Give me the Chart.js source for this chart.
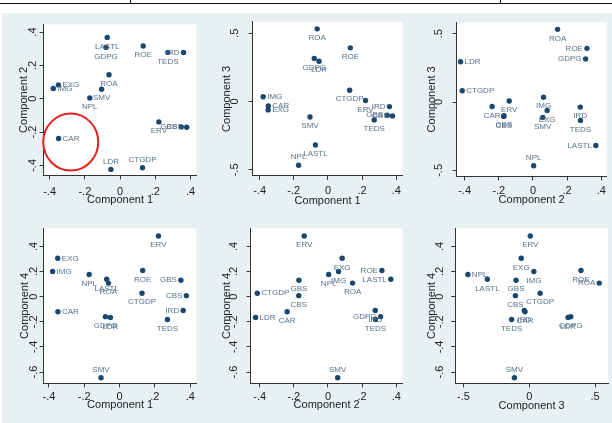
<!DOCTYPE html>
<html>
<head>
<meta charset="utf-8">
<script src="https://cdn.jsdelivr.net/npm/chart.js@4.4.0/dist/chart.umd.min.js"></script>
<style>
  html, body { margin: 0; padding: 0; background: #fff; }
  #page { position: relative; width: 612px; height: 423px; overflow: hidden; }
  #bg { position: absolute; left: 2px; top: 13px; right: 0; bottom: 0; background: #e9f0f2; }
  .rule { position: absolute; background: #111; }
  canvas { position: absolute; }
</style>
</head>
<body>
<div id="page">
  <div class="rule" style="left:0;top:3px;width:612px;height:1px"></div>
  <div class="rule" style="left:130px;top:0;width:1px;height:3px"></div>
  <div class="rule" style="left:500px;top:0;width:1px;height:3px"></div>
  <div id="bg"></div>
</div>
<script>
// loadings of the 16 variables on the first four components
const names = ['CAR', 'LDR', 'CTGDP', 'ERV', 'IRD', 'GBS', 'CBS', 'TEDS', 'ROE', 'ROA', 'GDPG', 'LASTL', 'NPL', 'SMV', 'EXG', 'IMG'];
const comp1 = [-0.349, -0.052, 0.127, 0.220, 0.360, 0.347, 0.378, 0.271, 0.131, -0.063, -0.080, -0.073, -0.172, -0.105, -0.350, -0.379];
const comp2 = [-0.239, -0.424, -0.414, -0.139, 0.277, -0.170, -0.171, 0.278, 0.316, 0.144, 0.308, 0.368, 0.004, 0.057, 0.083, 0.062];
const comp3 = [-0.032, 0.295, 0.083, 0.008, -0.037, -0.100, -0.105, -0.134, 0.393, 0.532, 0.316, -0.318, -0.466, -0.113, -0.061, 0.035];
const comp4 = [-0.120, -0.165, 0.027, 0.483, -0.110, 0.131, 0.008, -0.182, 0.208, 0.108, -0.159, 0.138, 0.176, -0.645, 0.305, 0.200];
const comps = [null, comp1, comp2, comp3, comp4];

// tick labels
const ticks4 = [-0.4, -0.2, 0, 0.2, 0.4];
const ticks5 = [-0.5, 0, 0.5];
const ticks6 = [-0.6, -0.4, -0.2, 0, 0.2, 0.4];

const FONT = "'Liberation Sans', Arial, sans-serif";
const FS = 11;
const HALF = FS * 1.2 / 2;
const AX = '#333';
const TXT = '#222';
const MARK = '#1a476f';
const LAB = '#56728d';

// panel geometry (pixels of plot region) and label clock positions (default 6 = below)
const panels = [
  { cx: 1, cy: 2, axisX: 44, top: 24, right: 197, axisY: 175, xr: [-0.434, 0.434], yr: [-0.46, 0.446], xt: ticks4, yt: ticks4,
    yTick: 9, yTitle: 20, xTick: 15, xTitle: 25,
    where: { IRD: 9, EXG: 3, IMG: 3, GBS: 9, CBS: 9, CAR: 3, LDR: 12, CTGDP: 12 }, circle: true },
  { cx: 1, cy: 3, axisX: 253, top: 22, right: 403, axisY: 176, xr: [-0.441, 0.437], yr: [-0.544, 0.583], xt: ticks4, yt: ticks5,
    yTick: 16, yTitle: 26, xTick: 14, xTitle: 25.5,
    where: { IMG: 3, CAR: 3, EXG: 3, IRD: 9, GBS: 9, CBS: 9, NPL: 12 } },
  { cx: 2, cy: 3, axisX: 457, top: 22, right: 607, axisY: 176, xr: [-0.447, 0.431], yr: [-0.544, 0.583], xt: ticks4, yt: ticks5,
    yTick: 16, yTitle: 25, xTick: 13.5, xTitle: 24,
    where: { ROE: 9, GDPG: 9, LDR: 3, CTGDP: 3, LASTL: 9, NPL: 12 } },
  { cx: 1, cy: 4, axisX: 44, top: 228, right: 197, axisY: 383, xr: [-0.43, 0.436], yr: [-0.69, 0.543], xt: ticks4, yt: ticks6,
    yTick: 8, yTitle: 19, xTick: 12, xTitle: 22,
    where: { EXG: 3, IMG: 3, GBS: 9, CBS: 9, CAR: 3, IRD: 9, SMV: 12 } },
  { cx: 2, cy: 4, axisX: 251, top: 228, right: 403, axisY: 383, xr: [-0.453, 0.437], yr: [-0.69, 0.543], xt: ticks4, yt: ticks6,
    yTick: 15, yTitle: 24, xTick: 12, xTitle: 22,
    where: { ROE: 9, LASTL: 9, CTGDP: 3, LDR: 3, GDPG: 9, SMV: 12 } },
  { cx: 3, cy: 4, axisX: 455, top: 228, right: 608, axisY: 383, xr: [-0.563, 0.599], yr: [-0.69, 0.543], xt: ticks5, yt: ticks6,
    yTick: 13.5, yTitle: 23.5, xTick: 12, xTitle: 23,
    where: { NPL: 3, ROA: 9, SMV: 12 } }
];

function fmt(v) {
  if (Math.abs(v) < 1e-9) return '0';
  return (v < 0 ? '-' : '') + String(Math.abs(v)).replace(/^0/, '');
}

const plotBg = {
  id: 'plotBg',
  beforeDraw(chart) {
    const a = chart.chartArea;
    chart.ctx.save();
    chart.ctx.fillStyle = '#fff';
    chart.ctx.fillRect(a.left, a.top, a.right - a.left, a.bottom - a.top);
    chart.ctx.restore();
  }
};

const pointLabels = {
  id: 'pointLabels',
  afterDatasetsDraw(chart, args, opts) {
    const ctx = chart.ctx;
    const meta = chart.getDatasetMeta(0);
    ctx.save();
    ctx.font = "8px 'Liberation Sans', Arial, sans-serif";
    ctx.fillStyle = LAB;
    meta.data.forEach((pt, i) => {
      const name = names[i];
      const pos = opts.where[name] || 6;
      let x = pt.x, y = pt.y;
      ctx.textBaseline = 'middle';
      if (pos === 6) { ctx.textAlign = 'center'; y += 9; }
      else if (pos === 12) { ctx.textAlign = 'center'; y -= 8; }
      else if (pos === 3) { ctx.textAlign = 'left'; x += 4; }
      else { ctx.textAlign = 'right'; x -= 4; }
      ctx.fillText(name, x, y);
    });
    ctx.restore();
  }
};

// red highlight round CAR in the first panel
const carCircle = {
  id: 'carCircle',
  afterDraw(chart, args, opts) {
    if (!opts.show) return;
    const ctx = chart.ctx;
    const cx = chart.scales.x.getPixelForValue(-0.28);
    const cy = chart.scales.y.getPixelForValue(-0.26);
    ctx.save();
    ctx.strokeStyle = '#e3211e';
    ctx.lineWidth = 2;
    ctx.beginPath();
    ctx.ellipse(cx, cy, 27.5, 28.5, 0, 0, Math.PI * 2);
    ctx.stroke();
    ctx.restore();
  }
};

const page = document.getElementById('page');

panels.forEach(p => {
  const YW = p.yTitle + HALF;
  const XH = p.xTitle + HALF;
  const plotW = p.right - p.axisX;
  const plotH = p.axisY - p.top;
  const cw = Math.round(YW + plotW + 10);
  const ch = Math.round(14 + plotH + XH);
  const padRight = cw - YW - plotW;
  const padTop = ch - plotH - XH;

  const canvas = document.createElement('canvas');
  canvas.width = cw;
  canvas.height = ch;
  canvas.style.width = cw + 'px';
  canvas.style.height = ch + 'px';
  canvas.style.left = (p.axisX - YW) + 'px';
  canvas.style.top = (p.top - padTop) + 'px';
  page.appendChild(canvas);

  const xs = comps[p.cx], ys = comps[p.cy];
  const points = names.map((n, i) => ({ x: xs[i], y: ys[i] }));

  new Chart(canvas.getContext('2d'), {
    type: 'scatter',
    data: {
      datasets: [{
        data: points,
        backgroundColor: MARK,
        borderWidth: 0,
        pointRadius: 2.7
      }]
    },
    options: {
      responsive: false,
      animation: false,
      devicePixelRatio: 1,
      layout: { padding: { top: padTop, right: padRight, left: 0, bottom: 0 } },
      plugins: {
        legend: { display: false },
        tooltip: { enabled: false },
        pointLabels: { where: p.where },
        carCircle: { show: !!p.circle }
      },
      scales: {
        x: {
          type: 'linear', position: 'bottom', min: p.xr[0], max: p.xr[1], bounds: 'data',
          afterBuildTicks: s => { s.ticks = p.xt.map(v => ({ value: v })); },
          afterFit: s => { s.height = XH; },
          grid: { drawOnChartArea: false, drawTicks: true, tickLength: 4, color: AX, lineWidth: 1 },
          border: { display: true, color: AX, width: 1 },
          ticks: { callback: fmt, autoSkip: false, maxRotation: 0, padding: p.xTick - 4 - HALF + 1.5,
                   color: TXT, font: { family: FONT, size: FS, lineHeight: 1.2 } },
          title: { display: true, text: 'Component ' + p.cx, color: TXT, padding: 0,
                   font: { family: FONT, size: FS, lineHeight: 1.2 } }
        },
        y: {
          type: 'linear', position: 'left', min: p.yr[0], max: p.yr[1], bounds: 'data',
          afterBuildTicks: s => { s.ticks = p.yt.map(v => ({ value: v })); },
          afterFit: s => { s.width = YW; },
          grid: { drawOnChartArea: false, drawTicks: true, tickLength: 4, color: AX, lineWidth: 1 },
          border: { display: true, color: AX, width: 1 },
          ticks: { callback: fmt, autoSkip: false, minRotation: 90, maxRotation: 90, crossAlign: 'center',
                   padding: p.yTick - 4 - 5, color: TXT, font: { family: FONT, size: FS, lineHeight: 1.2 } },
          title: { display: true, text: 'Component ' + p.cy, color: TXT, padding: 0,
                   font: { family: FONT, size: FS, lineHeight: 1.2 } }
        }
      }
    },
    plugins: [plotBg, pointLabels, carCircle]
  });
});
</script>
</body>
</html>
